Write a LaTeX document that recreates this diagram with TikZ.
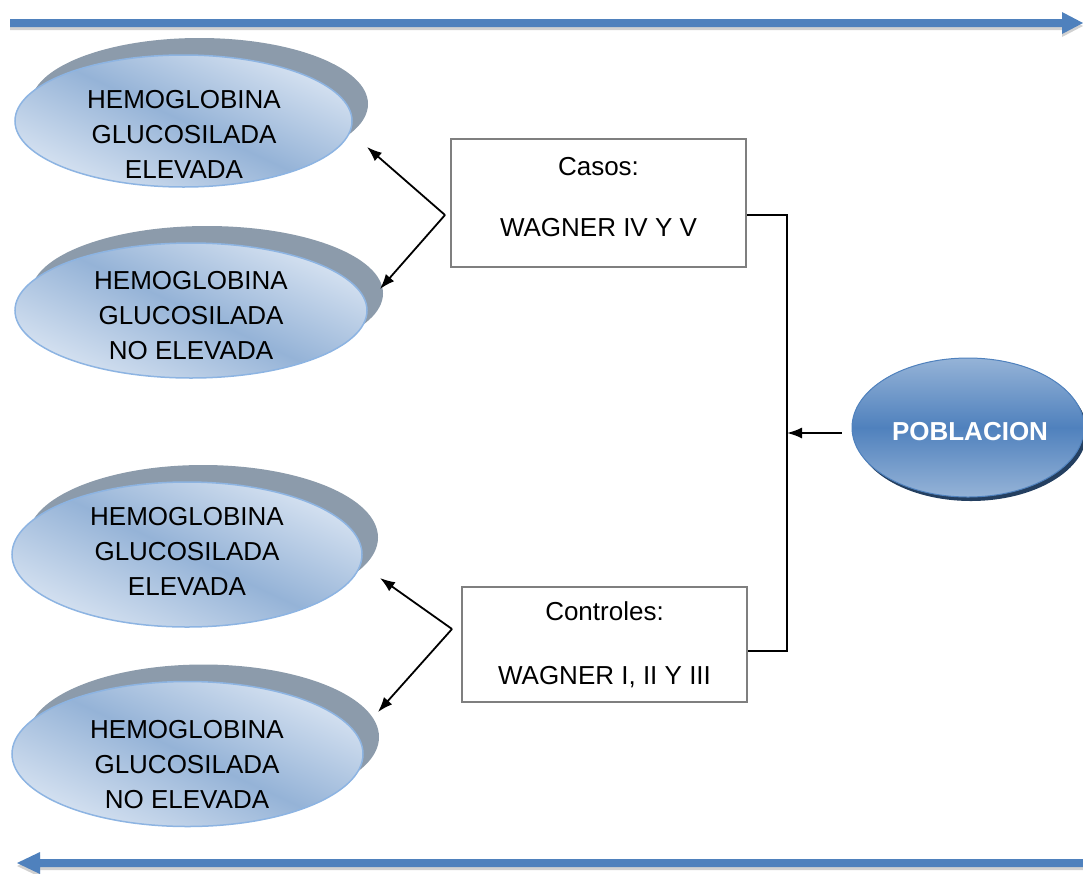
\documentclass[tikz,border=0pt]{standalone}
\usepackage{fontspec}
\setmainfont{Liberation Sans}
\usetikzlibrary{shapes.geometric,shadows,arrows.meta,calc}
\definecolor{arrowblue}{HTML}{4F81BD}
\definecolor{shgray}{HTML}{8C9BAB}
\definecolor{elllight}{HTML}{D6E2F1}
\definecolor{ellmid}{HTML}{95B3D7}
\definecolor{ellline}{HTML}{8DB4E2}
\definecolor{pobtop}{HTML}{95B3D7}
\definecolor{pobmid}{HTML}{4F81BD}
\definecolor{pobshadow}{HTML}{243F60}
\definecolor{boxline}{HTML}{7F7F7F}
\tikzset{
  hemo/.style={ellipse, draw=ellline, line width=1.5pt, top color=elllight,
    bottom color=elllight, middle color=ellmid, shading angle=-25, inner sep=0pt,
    drop shadow={shadow xshift=16pt, shadow yshift=17pt, fill=shgray, opacity=1}},
  hemotext/.style={font=\fontsize{26}{35}\selectfont, align=center, inner sep=0pt},
  groupbox/.style={draw=boxline, line width=2pt, fill=white,
    font=\fontsize{26}{35}\selectfont, align=center, inner sep=0pt},
  pobstyle/.style={ellipse, draw=pobmid, line width=1pt, top color=pobtop,
    bottom color=pobtop, middle color=pobmid, inner sep=0pt,
    drop shadow={shadow xshift=3pt, shadow yshift=-4pt, fill=pobshadow, opacity=1}},
  link/.style={draw=black, line width=1.8pt},
  linkarrow/.style={link, -{Latex[length=15pt,width=11pt]}},
  bigarrow/.style={fill=arrowblue},
  bigshadow/.style={fill=black!40, opacity=0.45},
}
\begin{document}
\begin{tikzpicture}[x=1pt,y=-1pt]
\useasboundingbox (0,0) rectangle (1083,873);
% big arrows
\fill[bigshadow] (10,22) -- (1062,22) -- (1062,15) -- (1083,26) -- (1062,37) -- (1062,30) -- (10,30) -- cycle;
\fill[bigarrow] (10,19) -- (1062,19) -- (1062,12) -- (1083,23) -- (1062,34) -- (1062,27) -- (10,27) -- cycle;
\fill[bigshadow] (1083,862) -- (40,862) -- (40,855) -- (17,866) -- (40,877) -- (40,870) -- (1083,870) -- cycle;
\fill[bigarrow] (1083,859) -- (40,859) -- (40,852) -- (17,863) -- (40,874) -- (40,867) -- (1083,867) -- cycle;
% ellipses
\node[hemo, minimum width=337pt, minimum height=132pt] (e1) at (183.5,121) {};
\node[hemo, minimum width=352pt, minimum height=135pt] (e2) at (191,310.5) {};
\node[hemo, minimum width=350pt, minimum height=145pt] (e3) at (187,554.5) {};
\node[hemo, minimum width=351pt, minimum height=145pt] (e4) at (187.5,754) {};
\node[hemotext] (t1) at (184,134) {HEMOGLOBINA\\GLUCOSILADA\\ELEVADA};
\node[hemotext] (t2) at (191,316) {HEMOGLOBINA\\GLUCOSILADA\\NO ELEVADA};
\node[hemotext] (t3) at (187,551) {HEMOGLOBINA\\GLUCOSILADA\\ELEVADA};
\node[hemotext] (t4) at (187,765) {HEMOGLOBINA\\GLUCOSILADA\\NO ELEVADA};
% boxes
\node[groupbox, minimum width=295pt, minimum height=128pt, text depth=13pt] (casos) at (598.5,203) {Casos:\\[26pt]WAGNER IV Y V};
\node[groupbox, minimum width=285pt, minimum height=115pt] (controles) at (604.5,644.5) {Controles:\\[29pt]WAGNER I, II Y III};
% poblacion
\node[pobstyle, minimum width=232pt, minimum height=139pt] (pob) at (968,427.5) {};
\node[font=\fontsize{26}{30}\selectfont\bfseries, text=white, inner sep=0pt] (pobt) at (970,432) {POBLACION};
% connectors
\coordinate (ca) at (445,215);
\coordinate (a1) at (367,147);
\coordinate (a2) at (380,289);
\coordinate (cb) at (452,629);
\coordinate (a3) at (380,578);
\coordinate (a4) at (378,712);
\draw[linkarrow] (ca) -- (a1);
\draw[linkarrow] (ca) -- (a2);
\draw[linkarrow] (cb) -- (a3);
\draw[linkarrow] (cb) -- (a4);
\coordinate (ce) at (casos.east |- ca);
\coordinate (bt) at (787,215);
\coordinate (bb) at (787,651);
\coordinate (cc) at (controles.east |- bb);
\draw[link] (ce) -- (bt) -- (bb) -- (cc);
\coordinate (pa) at ($(pob.west)+(-10,5.5)$);
\coordinate (bm) at (bt |- pa);
\draw[linkarrow] (pa) -- (bm);
\end{tikzpicture}
\end{document}
